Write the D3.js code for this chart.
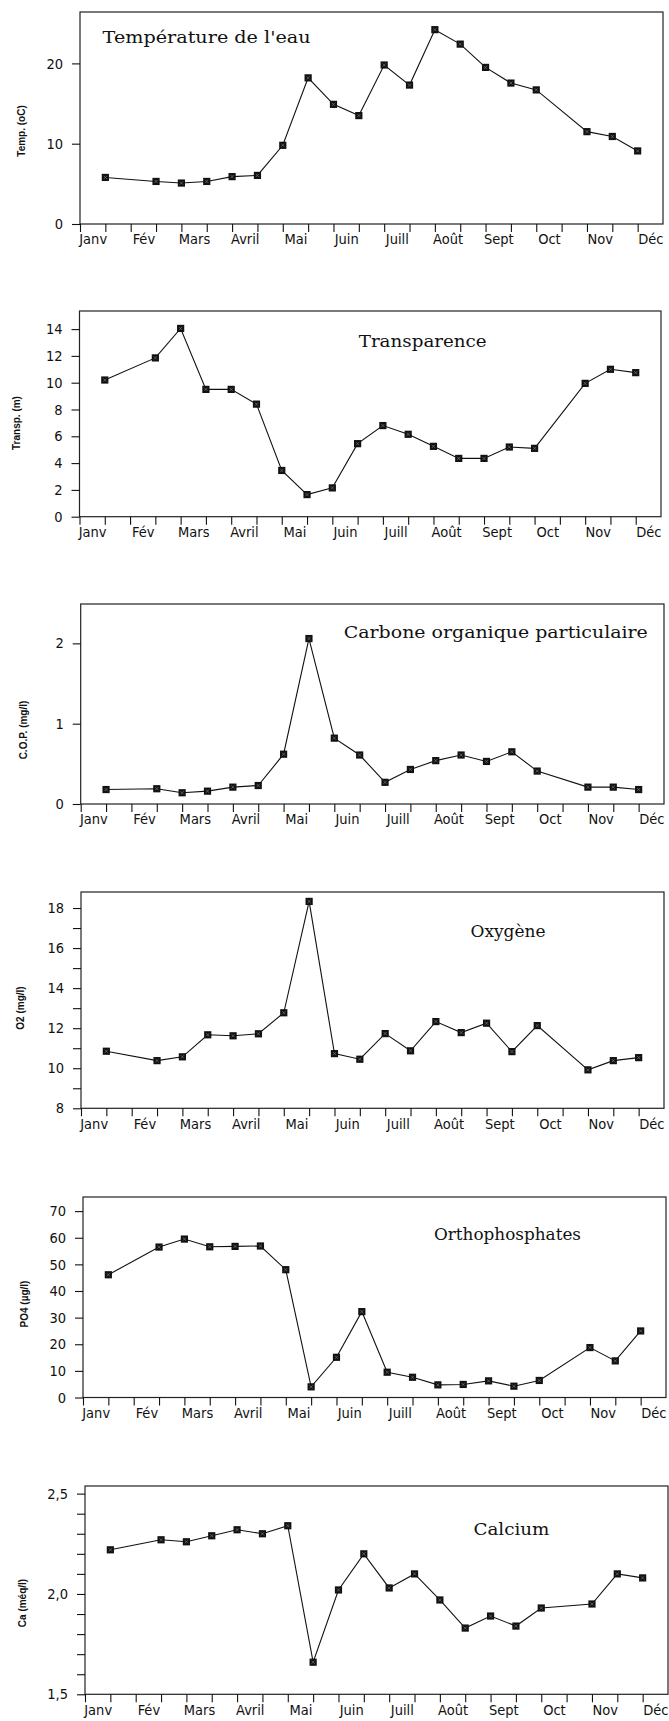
<!DOCTYPE html>
<html><head><meta charset="utf-8">
<script src="https://cdn.jsdelivr.net/npm/d3@7"></script>
<style>body{margin:0;background:#fff}</style>
</head><body>
<svg id="c" width="669" height="1721" xmlns="http://www.w3.org/2000/svg"></svg>
<script>
// ---- data ----
const months = ["Janv","Fév","Mars","Avril","Mai","Juin","Juill","Août","Sept","Oct","Nov","Déc"];
const monthPos = [0.5,2.5,4.5,6.5,8.5,10.5,12.5,14.5,16.5,18.5,20.5,22.5];
const halfMonthTicks = [0,1,2,3,4,5,6,7,8,9,10,11,12,13,14,15,16,17,18,19,20,21,22];
const sampleIdx = [1,3,4,5,6,7,8,9,10,11,12,13,14,15,16,17,18,20,21,22];

const temp   = [5.8,5.3,5.1,5.3,5.9,6.05,9.8,18.2,14.9,13.5,19.8,17.3,24.2,22.4,19.5,17.55,16.7,11.5,10.9,9.1];
const transp = [10.2,11.85,14.05,9.5,9.5,8.4,3.45,1.65,2.15,5.45,6.8,6.15,5.25,4.35,4.35,5.2,5.1,9.95,11.0,10.75];
const cop    = [0.18,0.19,0.14,0.16,0.21,0.23,0.62,2.06,0.82,0.61,0.27,0.43,0.54,0.61,0.53,0.65,0.41,0.21,0.21,0.18];
const o2     = [10.85,10.38,10.57,11.67,11.62,11.72,12.77,18.33,10.73,10.45,11.73,10.87,12.33,11.78,12.25,10.83,12.13,9.92,10.38,10.53];
const po4    = [46.1,56.5,59.5,56.6,56.75,56.9,48.0,4.0,15.1,32.25,9.5,7.6,4.75,4.9,6.25,4.25,6.4,18.75,13.75,25.0];
const ca     = [2.22,2.27,2.26,2.29,2.32,2.30,2.34,1.66,2.02,2.20,2.03,2.10,1.97,1.83,1.89,1.84,1.93,1.95,2.10,2.08];

const tempTicks = [0,10,20],            tempLabels = [0,10,20];
const transpTicks = [0,2,4,6,8,10,12,14], transpLabels = [0,2,4,6,8,10,12,14];
const copTicks = [0,1,2],               copLabels = [0,1,2];
const o2Ticks = [8,9,10,11,12,13,14,15,16,17,18], o2Labels = [8,10,12,14,16,18];
const po4Ticks = [0,10,20,30,40,50,60,70], po4Labels = [0,10,20,30,40,50,60,70];
const caTicks = [1.5,1.6,1.7,1.8,1.9,2.0,2.1,2.2,2.3,2.4,2.5], caLabels = [1.5,2.0,2.5];

const titles = ["Température de l'eau","Transparence","Carbone organique particulaire","Oxygène","Orthophosphates","Calcium"];
const yTitles = ["Temp. (oC)","Transp. (m)","C.O.P. (mg/l)","O2 (mg/l)","PO4 (µg/l)","Ca (méq/l)"];

// ---- layout ----
const charts = [
  {values:temp,   ticks:tempTicks,   labels:tempLabels,   domain:[0,26.4],  box:[80,663,12,224],     tt:[102.6,42.7,208], yl:[21,131],  dec:false},
  {values:transp, ticks:transpTicks, labels:transpLabels, domain:[0,15.35], box:[79.5,661,311,516.7], tt:[358.7,346.7,128], yl:[16,423], dec:false},
  {values:cop,    ticks:copTicks,    labels:copLabels,    domain:[0,2.49],  box:[80.7,664,604,804],    tt:[343.8,637.5,304], yl:[23,730], dec:false},
  {values:o2,     ticks:o2Ticks,     labels:o2Labels,     domain:[8,18.8],  box:[81,664,892,1108.3],   tt:[470.5,936.5,75],  yl:[20,1008], dec:false},
  {values:po4,    ticks:po4Ticks,    labels:po4Labels,    domain:[0,75.3],  box:[83,666,1197,1397.5],  tt:[434,1240,147],    yl:[24,1304], dec:false},
  {values:ca,     ticks:caTicks,     labels:caLabels,     domain:[1.5,2.538], box:[85,668,1486,1694.3], tt:[473.4,1535,76],  yl:[22,1603], dec:true}
];

const svg = d3.select("#c");
svg.append("rect").attr("width",669).attr("height",1721).attr("fill","#fff");

const numFont = "'Liberation Sans Narrow','DejaVu Sans Condensed','Liberation Sans',sans-serif";

charts.forEach((c, ci) => {
  const [l, r, t, b] = c.box;
  const x = d3.scaleLinear().domain([0, 23]).range([l, r]);
  const y = d3.scaleLinear().domain(c.domain).range([b, t]);
  const g = svg.append("g");

  // frame
  g.append("rect").attr("x", l).attr("y", t).attr("width", r - l).attr("height", b - t)
    .attr("fill", "none").attr("stroke", "#222").attr("stroke-width", 1.2);

  // x ticks
  const xa = g.append("g").attr("transform", `translate(0,${b})`)
    .call(d3.axisBottom(x).tickValues(halfMonthTicks).tickSize(8).tickSizeOuter(0).tickFormat(""));
  xa.select(".domain").remove();
  xa.selectAll("line").attr("stroke", "#111").attr("stroke-width", 1.1);

  // month labels
  const xl = g.append("g").attr("transform", `translate(0,${b})`)
    .call(d3.axisBottom(x).tickValues(monthPos).tickSize(0).tickPadding(10)
      .tickFormat((d, i) => months[i]));
  xl.select(".domain").remove();
  xl.selectAll("text").attr("font-family", numFont).attr("font-size", 14.5).attr("fill", "#111");

  // y axis
  const fmt = d => c.dec ? d.toFixed(1).replace(".", ",") : String(d);
  const ya = g.append("g").attr("transform", `translate(${l},0)`)
    .call(d3.axisLeft(y).tickValues(c.ticks).tickSize(8).tickPadding(9)
      .tickFormat(d => c.labels.some(v => Math.abs(v - d) < 1e-9) ? fmt(d) : ""));
  ya.select(".domain").remove();
  ya.selectAll("line").attr("stroke", "#111").attr("stroke-width", 1.1);
  ya.selectAll("text").attr("font-family", numFont).attr("font-size", 14.5).attr("fill", "#111");

  // y title
  g.append("text").attr("transform", `translate(${c.yl[0]},${c.yl[1]}) rotate(-90)`)
    .attr("text-anchor", "middle").attr("dy", "0.35em")
    .attr("font-family", "'Liberation Sans',Arial,sans-serif").attr("font-weight", "bold")
    .attr("font-size", 10).attr("fill", "#111").text(yTitles[ci]);

  // chart title
  g.append("text").attr("x", c.tt[0]).attr("y", c.tt[1])
    .attr("font-family", "'DejaVu Serif','Liberation Serif',serif").attr("font-size", 16)
    .attr("textLength", c.tt[2]).attr("lengthAdjust", "spacingAndGlyphs")
    .attr("fill", "#111").text(titles[ci]);

  // line
  const pts = sampleIdx.map((s, i) => [s, c.values[i]]);
  g.append("path").datum(pts)
    .attr("d", d3.line().x(d => x(d[0])).y(d => y(d[1])))
    .attr("fill", "none").attr("stroke", "#111").attr("stroke-width", 1.1);

  // markers
  const m = g.selectAll(".mk").data(pts).enter().append("g")
    .attr("transform", d => `translate(${x(d[0])},${y(d[1])})`);
  m.append("rect").attr("x", -3.6).attr("y", -3.6).attr("width", 7.2).attr("height", 7.2).attr("fill", "#111");
  m.append("path").attr("d", "M-1.6,-1.6L1.6,1.6M1.6,-1.6L-1.6,1.6")
    .attr("stroke", "#888").attr("stroke-width", 0.6).attr("fill", "none");
});
</script>
</body></html>
